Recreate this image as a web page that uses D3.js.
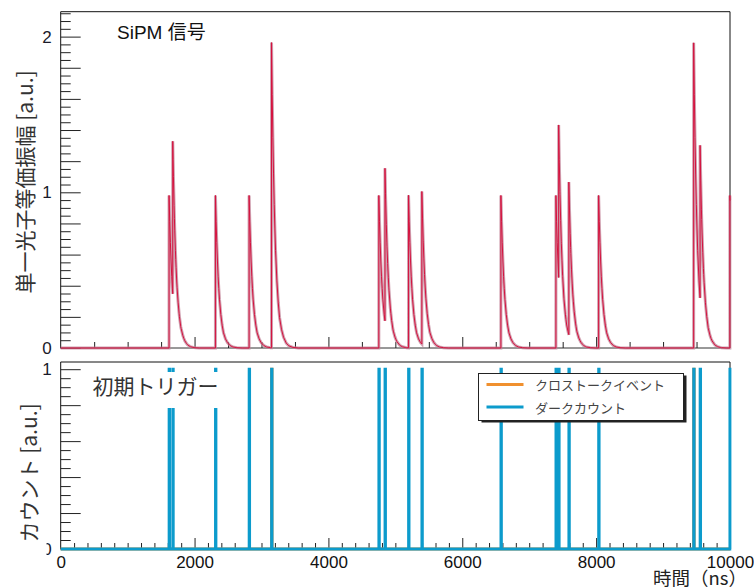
<!DOCTYPE html>
<html><head><meta charset="utf-8">
<script src="https://cdn.jsdelivr.net/npm/d3@7"></script>
<style>body{margin:0;background:#fff} svg{display:block}</style>
</head><body>
<svg id="c" width="754" height="587"></svg>
<script>
// ---- data ----
const pulseTimes = [1619, 1674, 2312, 2815, 3150, 4753, 4845, 5197, 5396, 6577, 7399, 7440, 7592, 8037, 9457, 9553, 9998];
const pulseAmps  = [0.98, 0.98, 0.98, 0.98, 1.96, 0.98, 0.98, 0.98, 0.98, 0.98, 0.98, 0.98, 0.98, 0.98, 1.96, 0.98, 0.98];
// single-photon pulse template (time after onset in ns, relative height)
const pulseShapeT = [0, 10, 20, 30, 40, 50, 60, 80, 100, 120, 150, 180, 220, 260, 320, 400];
const pulseShapeV = [1, 0.83, 0.69, 0.57, 0.47, 0.39, 0.32, 0.22, 0.15, 0.10, 0.06, 0.035, 0.016, 0.007, 0.002, 0];
const darkCountTimes = [1619, 1674, 2312, 2815, 3150, 4753, 4845, 5197, 5396, 6577, 7399, 7440, 7592, 8037, 9457, 9553, 9998];
const crosstalkTimes = [3150, 9457];
const xTickLabels = [0, 2000, 4000, 6000, 8000, 10000];
const yTopLabels = [0, 1, 2];
const yBotLabels = [0, 1];
const legendLabels = ["クロストークイベント", "ダークカウント"];

// ---- layout ----
const X0 = 60.7, X1 = 730;
const T_TOP = 11.7, T_BOT = 348;
const B_TOP = 362, B_BOT = 549;
const BLUE = "#0c9bcc", ORANGE = "#f0902e";
const NUMFONT = "'Liberation Sans', Arial, sans-serif";
const JPFONT = "'Noto Sans CJK JP', sans-serif";

const svg = d3.select("#c");
const x = d3.scaleLinear().domain([0, 10000]).range([X0, X1]);
const yT = d3.scaleLinear().domain([0, 2.16]).range([T_BOT, T_TOP]);
const yB = d3.scaleLinear().domain([0, 1.04]).range([B_BOT, B_TOP]);

function noDomain(g) { g.select(".domain").remove(); g.selectAll("line").attr("stroke", "#222"); }

function yTicks(y, max) {
  const all = d3.range(0, max, 0.05);
  const isMaj = v => Math.abs(v / 0.2 - Math.round(v / 0.2)) < 1e-6;
  svg.append("g").attr("transform", `translate(${X0},0)`)
    .call(d3.axisRight(y).tickValues(all.filter(v => !isMaj(v))).tickSize(10).tickFormat(""))
    .call(noDomain);
  svg.append("g").attr("transform", `translate(${X0},0)`)
    .call(d3.axisRight(y).tickValues(all.filter(isMaj)).tickSize(20).tickFormat(""))
    .call(noDomain);
}
function xTicks(yPos, step) {
  const all = d3.range(0, 10001, step);
  svg.append("g").attr("transform", `translate(0,${yPos})`)
    .call(d3.axisTop(x).tickValues(all.filter(v => v % 2000 !== 0)).tickSize(6).tickFormat(""))
    .call(noDomain);
  svg.append("g").attr("transform", `translate(0,${yPos})`)
    .call(d3.axisTop(x).tickValues(all.filter(v => v % 2000 === 0 && v > 0 && v < 10000)).tickSize(11).tickFormat(""))
    .call(noDomain);
}
function frame(top, bot) {
  svg.append("path").attr("d", `M${X0},${bot}V${top}H${X1}V${bot}`)
    .attr("fill", "none").attr("stroke", "#111").attr("stroke-width", 1);
  svg.append("line").attr("x1", X0).attr("x2", X1).attr("y1", bot).attr("y2", bot)
    .attr("stroke", "#333").attr("stroke-width", 1);
}

// ---- top panel ----
frame(T_TOP, T_BOT);
yTicks(yT, 2.16);
xTicks(T_BOT, 500);

const shape = d3.scaleLinear().domain(pulseShapeT).range(pulseShapeV).clamp(true);
const tset = new Set([0, 10000]);
pulseTimes.forEach(p => { tset.add(p - 0.01); pulseShapeT.forEach(o => tset.add(p + o)); });
const times = Array.from(tset).filter(t => t >= 0 && t <= 10000).sort((a, b) => a - b);
const signal = times.map(t => [t, d3.sum(pulseTimes, (p, i) => t >= p ? pulseAmps[i] * shape(t - p) : 0)]);
const sigLine = d3.line().x(d => x(d[0])).y(d => yT(d[1]));
svg.append("path").attr("d", sigLine(signal)).attr("fill", "none")
  .attr("stroke", "#c08096").attr("stroke-opacity", 0.75).attr("stroke-width", 3);
svg.append("path").attr("d", sigLine(signal)).attr("fill", "none")
  .attr("stroke", "#d5123e").attr("stroke-width", 1);

svg.append("g").attr("transform", `translate(${X0},0)`)
  .call(d3.axisLeft(yT).tickValues(yTopLabels).tickSize(0).tickPadding(9).tickFormat(d3.format("d")))
  .call(g => g.select(".domain").remove())
  .selectAll("text").attr("font-family", NUMFONT).attr("font-size", 17).attr("fill", "#1a1a2a");

svg.append("text").attr("x", 117).attr("y", 38.5)
  .attr("font-family", "'Liberation Sans', 'Noto Sans CJK JP', sans-serif").attr("font-size", 19)
  .attr("fill", "#111").text("SiPM 信号");

svg.append("text").attr("transform", "translate(23.5,182) rotate(-90)")
  .attr("text-anchor", "middle").attr("dominant-baseline", "central")
  .attr("font-family", "'Noto Sans CJK JP', 'Liberation Sans', sans-serif").attr("font-size", 21)
  .attr("fill", "#333").text("単一光子等価振幅 [a.u.]");

// ---- bottom panel ----
frame(B_TOP, B_BOT);
yTicks(yB, 1.04);
xTicks(B_BOT, 200);

const BIN = 8;
function histPoints(ts) {
  const pts = [[0, 0]];
  ts.slice().sort((a, b) => a - b).forEach(t => {
    const e = Math.min(t + BIN, 10000);
    pts.push([t, 0], [t, 1], [e, 1], [e, 0]);
  });
  pts.push([10000, 0]);
  return pts;
}
const hLine = d3.line().x(d => x(d[0])).y(d => yB(d[1]));
svg.append("path").attr("d", hLine(histPoints(crosstalkTimes))).attr("fill", "none")
  .attr("stroke", ORANGE).attr("stroke-width", 2.8);
svg.append("path").attr("d", hLine(histPoints(darkCountTimes))).attr("fill", "none")
  .attr("stroke", BLUE).attr("stroke-width", 2.8);

// labels of bottom panel (the "0" is partly hidden in the reference)
const lc = svg.append("clipPath").attr("id", "lc");
lc.append("rect").attr("x", 30).attr("y", 355).attr("width", 36).attr("height", 185);
lc.append("rect").attr("x", 46.5).attr("y", 540).attr("width", 20).attr("height", 20);
svg.append("g").attr("clip-path", "url(#lc)")
  .append("g").attr("transform", `translate(${X0},0)`)
  .call(d3.axisLeft(yB).tickValues(yBotLabels).tickSize(0).tickPadding(9).tickFormat(d3.format("d")))
  .call(g => g.select(".domain").remove())
  .selectAll("text").attr("font-family", NUMFONT).attr("font-size", 17).attr("fill", "#1a1a2a");
svg.append("g").attr("transform", `translate(0,${B_BOT})`)
  .call(d3.axisBottom(x).tickValues(xTickLabels).tickSize(0).tickPadding(7).tickFormat(d3.format("d")))
  .call(g => g.select(".domain").remove())
  .selectAll("text").attr("font-family", NUMFONT).attr("font-size", 17).attr("fill", "#111");

// 初期トリガー label box
svg.append("rect").attr("x", 85).attr("y", 372).attr("width", 137).attr("height", 36).attr("fill", "#fff");
svg.append("text").attr("x", 92.5).attr("y", 393.5)
  .attr("font-family", JPFONT).attr("font-size", 21).attr("fill", "#333").text("初期トリガー");

// legend
const LX = 478.5, LY = 373.5, LW = 205, LH = 47;
svg.append("rect").attr("x", LX + 3).attr("y", LY + 2).attr("width", LW).attr("height", LH).attr("fill", "#222");
svg.append("rect").attr("x", LX).attr("y", LY).attr("width", LW).attr("height", LH)
  .attr("fill", "#fff").attr("stroke", "#222").attr("stroke-width", 1);
const legColors = [ORANGE, BLUE];
legendLabels.forEach((lab, i) => {
  const yy = LY + 11 + i * 22.6;
  svg.append("line").attr("x1", LX + 8).attr("x2", LX + 45).attr("y1", yy).attr("y2", yy)
    .attr("stroke", legColors[i]).attr("stroke-width", 3);
  svg.append("text").attr("x", LX + 56.5).attr("y", yy).attr("dominant-baseline", "central")
    .attr("font-family", JPFONT).attr("font-size", 13).attr("fill", "#444").text(lab);
});

svg.append("text").attr("transform", "translate(28,473) rotate(-90)")
  .attr("text-anchor", "middle").attr("dominant-baseline", "central")
  .attr("font-family", "'Noto Sans CJK JP', 'Liberation Sans', sans-serif").attr("font-size", 21)
  .attr("fill", "#333").text("カウント [a.u.]");

svg.append("text").attr("x", 747).attr("y", 584.5).attr("text-anchor", "end")
  .attr("font-family", "'Noto Sans CJK JP', 'Liberation Sans', sans-serif").attr("font-size", 18.5)
  .attr("fill", "#222").text("時間（ns）");
</script>
</body></html>
